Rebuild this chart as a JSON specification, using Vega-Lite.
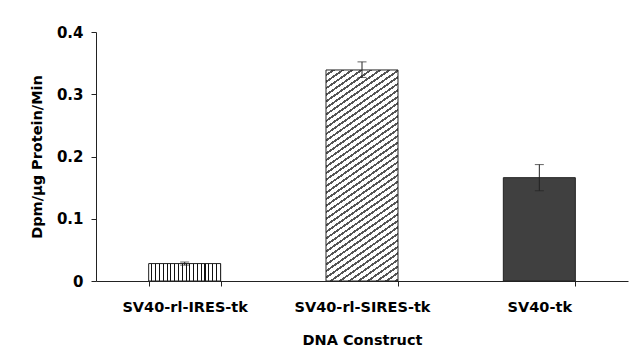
{
  "$schema": "https://vega.github.io/schema/vega-lite/v6.json",
  "width": 532,
  "height": 249,
  "autosize": {"type": "none"},
  "padding": {"left": 96, "top": 32, "right": 13, "bottom": 83},
  "background": "white",
  "config": {
    "view": {"stroke": null},
    "font": "DejaVu Sans",
    "axis": {"domainColor": "#222", "tickColor": "#222", "labelColor": "#000", "titleColor": "#000", "grid": false, "labelFont": "DejaVu Sans", "titleFont": "DejaVu Sans", "labelFontWeight": "bold", "titleFontWeight": "bold"}
  },
  "data": {
    "values": [
      {"construct": "SV40-rl-IRES-tk", "value": 0.028, "lo": 0.0255, "hi": 0.0305},
      {"construct": "SV40-rl-SIRES-tk", "value": 0.339, "lo": 0.327, "hi": 0.352},
      {"construct": "SV40-tk", "value": 0.166, "lo": 0.145, "hi": 0.187}
    ]
  },
  "encoding": {
    "x": {
      "field": "construct", "type": "nominal", "sort": null,
      "scale": {"paddingInner": 0.594, "paddingOuter": 0.297},
      "axis": {"title": "DNA Construct", "labelAngle": 0, "labelFontSize": 14.5, "titleFontSize": 14.5, "labelPadding": 14, "titlePadding": 20, "tickSize": 5, "tickBand": "extent", "labelLimit": 0}
    }
  },
  "layer": [
    {
      "transform": [{"filter": "datum.construct === 'SV40-rl-IRES-tk'"}],
      "mark": {"type": "bar", "stroke": "#222", "strokeWidth": 1, "fill": {"gradient": "linear", "x1": 0, "y1": 0, "x2": 1, "y2": 0, "stops": [
        {"offset": 0, "color": "#fff"}, {"offset": 0.0379, "color": "#fff"}, {"offset": 0.0379, "color": "#111"}, {"offset": 0.0526, "color": "#111"},
        {"offset": 0.0526, "color": "#fff"}, {"offset": 0.0905, "color": "#fff"}, {"offset": 0.0905, "color": "#111"}, {"offset": 0.1053, "color": "#111"},
        {"offset": 0.1053, "color": "#fff"}, {"offset": 0.1432, "color": "#fff"}, {"offset": 0.1432, "color": "#111"}, {"offset": 0.1579, "color": "#111"},
        {"offset": 0.1579, "color": "#fff"}, {"offset": 0.1958, "color": "#fff"}, {"offset": 0.1958, "color": "#111"}, {"offset": 0.2105, "color": "#111"},
        {"offset": 0.2105, "color": "#fff"}, {"offset": 0.2484, "color": "#fff"}, {"offset": 0.2484, "color": "#111"}, {"offset": 0.2632, "color": "#111"},
        {"offset": 0.2632, "color": "#fff"}, {"offset": 0.3011, "color": "#fff"}, {"offset": 0.3011, "color": "#111"}, {"offset": 0.3158, "color": "#111"},
        {"offset": 0.3158, "color": "#fff"}, {"offset": 0.3537, "color": "#fff"}, {"offset": 0.3537, "color": "#111"}, {"offset": 0.3684, "color": "#111"},
        {"offset": 0.3684, "color": "#fff"}, {"offset": 0.4063, "color": "#fff"}, {"offset": 0.4063, "color": "#111"}, {"offset": 0.4211, "color": "#111"},
        {"offset": 0.4211, "color": "#fff"}, {"offset": 0.4590, "color": "#fff"}, {"offset": 0.4590, "color": "#111"}, {"offset": 0.4737, "color": "#111"},
        {"offset": 0.4737, "color": "#fff"}, {"offset": 0.5116, "color": "#fff"}, {"offset": 0.5116, "color": "#111"}, {"offset": 0.5263, "color": "#111"},
        {"offset": 0.5263, "color": "#fff"}, {"offset": 0.5642, "color": "#fff"}, {"offset": 0.5642, "color": "#111"}, {"offset": 0.5789, "color": "#111"},
        {"offset": 0.5789, "color": "#fff"}, {"offset": 0.6168, "color": "#fff"}, {"offset": 0.6168, "color": "#111"}, {"offset": 0.6316, "color": "#111"},
        {"offset": 0.6316, "color": "#fff"}, {"offset": 0.6695, "color": "#fff"}, {"offset": 0.6695, "color": "#111"}, {"offset": 0.6842, "color": "#111"},
        {"offset": 0.6842, "color": "#fff"}, {"offset": 0.7221, "color": "#fff"}, {"offset": 0.7221, "color": "#111"}, {"offset": 0.7368, "color": "#111"},
        {"offset": 0.7368, "color": "#fff"}, {"offset": 0.7747, "color": "#fff"}, {"offset": 0.7747, "color": "#111"}, {"offset": 0.7895, "color": "#111"},
        {"offset": 0.7895, "color": "#fff"}, {"offset": 0.8274, "color": "#fff"}, {"offset": 0.8274, "color": "#111"}, {"offset": 0.8421, "color": "#111"},
        {"offset": 0.8421, "color": "#fff"}, {"offset": 0.8800, "color": "#fff"}, {"offset": 0.8800, "color": "#111"}, {"offset": 0.8947, "color": "#111"},
        {"offset": 0.8947, "color": "#fff"}, {"offset": 0.9326, "color": "#fff"}, {"offset": 0.9326, "color": "#111"}, {"offset": 0.9474, "color": "#111"},
        {"offset": 0.9474, "color": "#fff"}, {"offset": 0.9853, "color": "#fff"}, {"offset": 0.9853, "color": "#111"}, {"offset": 1, "color": "#111"}
      ]}},
      "encoding": {
        "y": {"field": "value", "type": "quantitative", "scale": {"domain": [0, 0.4]},
          "axis": {"title": "Dpm/\u00b5g Protein/Min", "values": [0, 0.1, 0.2, 0.3, 0.4], "labelExpr": "datum.value === 0 ? '0' : format(datum.value, '.1f')", "labelFontSize": 15, "titleFontSize": 14.5, "tickSize": 5, "labelPadding": 8, "titlePadding": 12}}
      }
    },
    {
      "transform": [{"filter": "datum.construct === 'SV40-rl-SIRES-tk'"}],
      "mark": {"type": "bar", "stroke": "#222", "strokeWidth": 1, "fill": {"gradient": "linear", "x1": 0, "y1": 0, "x2": 0.28, "y2": 1.17, "stops": [
        {"offset": 0, "color": "#fff"}, {"offset": 0.0163, "color": "#fff"}, {"offset": 0.0163, "color": "#555"}, {"offset": 0.025, "color": "#555"},
        {"offset": 0.025, "color": "#fff"}, {"offset": 0.0413, "color": "#fff"}, {"offset": 0.0413, "color": "#555"}, {"offset": 0.05, "color": "#555"},
        {"offset": 0.05, "color": "#fff"}, {"offset": 0.0663, "color": "#fff"}, {"offset": 0.0663, "color": "#555"}, {"offset": 0.075, "color": "#555"},
        {"offset": 0.075, "color": "#fff"}, {"offset": 0.0913, "color": "#fff"}, {"offset": 0.0913, "color": "#555"}, {"offset": 0.1, "color": "#555"},
        {"offset": 0.1, "color": "#fff"}, {"offset": 0.1163, "color": "#fff"}, {"offset": 0.1163, "color": "#555"}, {"offset": 0.125, "color": "#555"},
        {"offset": 0.125, "color": "#fff"}, {"offset": 0.1413, "color": "#fff"}, {"offset": 0.1413, "color": "#555"}, {"offset": 0.15, "color": "#555"},
        {"offset": 0.15, "color": "#fff"}, {"offset": 0.1663, "color": "#fff"}, {"offset": 0.1663, "color": "#555"}, {"offset": 0.175, "color": "#555"},
        {"offset": 0.175, "color": "#fff"}, {"offset": 0.1913, "color": "#fff"}, {"offset": 0.1913, "color": "#555"}, {"offset": 0.2, "color": "#555"},
        {"offset": 0.2, "color": "#fff"}, {"offset": 0.2163, "color": "#fff"}, {"offset": 0.2163, "color": "#555"}, {"offset": 0.225, "color": "#555"},
        {"offset": 0.225, "color": "#fff"}, {"offset": 0.2413, "color": "#fff"}, {"offset": 0.2413, "color": "#555"}, {"offset": 0.25, "color": "#555"},
        {"offset": 0.25, "color": "#fff"}, {"offset": 0.2663, "color": "#fff"}, {"offset": 0.2663, "color": "#555"}, {"offset": 0.275, "color": "#555"},
        {"offset": 0.275, "color": "#fff"}, {"offset": 0.2913, "color": "#fff"}, {"offset": 0.2913, "color": "#555"}, {"offset": 0.3, "color": "#555"},
        {"offset": 0.3, "color": "#fff"}, {"offset": 0.3163, "color": "#fff"}, {"offset": 0.3163, "color": "#555"}, {"offset": 0.325, "color": "#555"},
        {"offset": 0.325, "color": "#fff"}, {"offset": 0.3413, "color": "#fff"}, {"offset": 0.3413, "color": "#555"}, {"offset": 0.35, "color": "#555"},
        {"offset": 0.35, "color": "#fff"}, {"offset": 0.3663, "color": "#fff"}, {"offset": 0.3663, "color": "#555"}, {"offset": 0.375, "color": "#555"},
        {"offset": 0.375, "color": "#fff"}, {"offset": 0.3913, "color": "#fff"}, {"offset": 0.3913, "color": "#555"}, {"offset": 0.4, "color": "#555"},
        {"offset": 0.4, "color": "#fff"}, {"offset": 0.4163, "color": "#fff"}, {"offset": 0.4163, "color": "#555"}, {"offset": 0.425, "color": "#555"},
        {"offset": 0.425, "color": "#fff"}, {"offset": 0.4413, "color": "#fff"}, {"offset": 0.4413, "color": "#555"}, {"offset": 0.45, "color": "#555"},
        {"offset": 0.45, "color": "#fff"}, {"offset": 0.4663, "color": "#fff"}, {"offset": 0.4663, "color": "#555"}, {"offset": 0.475, "color": "#555"},
        {"offset": 0.475, "color": "#fff"}, {"offset": 0.4913, "color": "#fff"}, {"offset": 0.4913, "color": "#555"}, {"offset": 0.5, "color": "#555"},
        {"offset": 0.5, "color": "#fff"}, {"offset": 0.5163, "color": "#fff"}, {"offset": 0.5163, "color": "#555"}, {"offset": 0.525, "color": "#555"},
        {"offset": 0.525, "color": "#fff"}, {"offset": 0.5413, "color": "#fff"}, {"offset": 0.5413, "color": "#555"}, {"offset": 0.55, "color": "#555"},
        {"offset": 0.55, "color": "#fff"}, {"offset": 0.5663, "color": "#fff"}, {"offset": 0.5663, "color": "#555"}, {"offset": 0.575, "color": "#555"},
        {"offset": 0.575, "color": "#fff"}, {"offset": 0.5913, "color": "#fff"}, {"offset": 0.5913, "color": "#555"}, {"offset": 0.6, "color": "#555"},
        {"offset": 0.6, "color": "#fff"}, {"offset": 0.6163, "color": "#fff"}, {"offset": 0.6163, "color": "#555"}, {"offset": 0.625, "color": "#555"},
        {"offset": 0.625, "color": "#fff"}, {"offset": 0.6413, "color": "#fff"}, {"offset": 0.6413, "color": "#555"}, {"offset": 0.65, "color": "#555"},
        {"offset": 0.65, "color": "#fff"}, {"offset": 0.6663, "color": "#fff"}, {"offset": 0.6663, "color": "#555"}, {"offset": 0.675, "color": "#555"},
        {"offset": 0.675, "color": "#fff"}, {"offset": 0.6913, "color": "#fff"}, {"offset": 0.6913, "color": "#555"}, {"offset": 0.7, "color": "#555"},
        {"offset": 0.7, "color": "#fff"}, {"offset": 0.7163, "color": "#fff"}, {"offset": 0.7163, "color": "#555"}, {"offset": 0.725, "color": "#555"},
        {"offset": 0.725, "color": "#fff"}, {"offset": 0.7413, "color": "#fff"}, {"offset": 0.7413, "color": "#555"}, {"offset": 0.75, "color": "#555"},
        {"offset": 0.75, "color": "#fff"}, {"offset": 0.7663, "color": "#fff"}, {"offset": 0.7663, "color": "#555"}, {"offset": 0.775, "color": "#555"},
        {"offset": 0.775, "color": "#fff"}, {"offset": 0.7913, "color": "#fff"}, {"offset": 0.7913, "color": "#555"}, {"offset": 0.8, "color": "#555"},
        {"offset": 0.8, "color": "#fff"}, {"offset": 0.8163, "color": "#fff"}, {"offset": 0.8163, "color": "#555"}, {"offset": 0.825, "color": "#555"},
        {"offset": 0.825, "color": "#fff"}, {"offset": 0.8413, "color": "#fff"}, {"offset": 0.8413, "color": "#555"}, {"offset": 0.85, "color": "#555"},
        {"offset": 0.85, "color": "#fff"}, {"offset": 0.8663, "color": "#fff"}, {"offset": 0.8663, "color": "#555"}, {"offset": 0.875, "color": "#555"},
        {"offset": 0.875, "color": "#fff"}, {"offset": 0.8913, "color": "#fff"}, {"offset": 0.8913, "color": "#555"}, {"offset": 0.9, "color": "#555"},
        {"offset": 0.9, "color": "#fff"}, {"offset": 0.9163, "color": "#fff"}, {"offset": 0.9163, "color": "#555"}, {"offset": 0.925, "color": "#555"},
        {"offset": 0.925, "color": "#fff"}, {"offset": 0.9413, "color": "#fff"}, {"offset": 0.9413, "color": "#555"}, {"offset": 0.95, "color": "#555"},
        {"offset": 0.95, "color": "#fff"}, {"offset": 0.9663, "color": "#fff"}, {"offset": 0.9663, "color": "#555"}, {"offset": 0.975, "color": "#555"},
        {"offset": 0.975, "color": "#fff"}, {"offset": 0.9913, "color": "#fff"}, {"offset": 0.9913, "color": "#555"}, {"offset": 1, "color": "#555"}
      ]}},
      "encoding": {
        "y": {"field": "value", "type": "quantitative"}
      }
    },
    {
      "transform": [{"filter": "datum.construct === 'SV40-tk'"}],
      "mark": {"type": "bar", "stroke": "#222", "strokeWidth": 1, "fill": "#404040"},
      "encoding": {
        "y": {"field": "value", "type": "quantitative"}
      }
    },
    {
      "mark": {"type": "rule", "color": "#222", "strokeWidth": 1},
      "encoding": {
        "y": {"field": "lo", "type": "quantitative"},
        "y2": {"field": "hi"}
      }
    },
    {
      "mark": {"type": "tick", "color": "#222", "thickness": 1, "size": 9, "orient": "horizontal"},
      "encoding": {
        "y": {"field": "hi", "type": "quantitative"}
      }
    },
    {
      "mark": {"type": "tick", "color": "#222", "thickness": 1, "size": 9, "orient": "horizontal"},
      "encoding": {
        "y": {"field": "lo", "type": "quantitative"}
      }
    }
  ]
}
